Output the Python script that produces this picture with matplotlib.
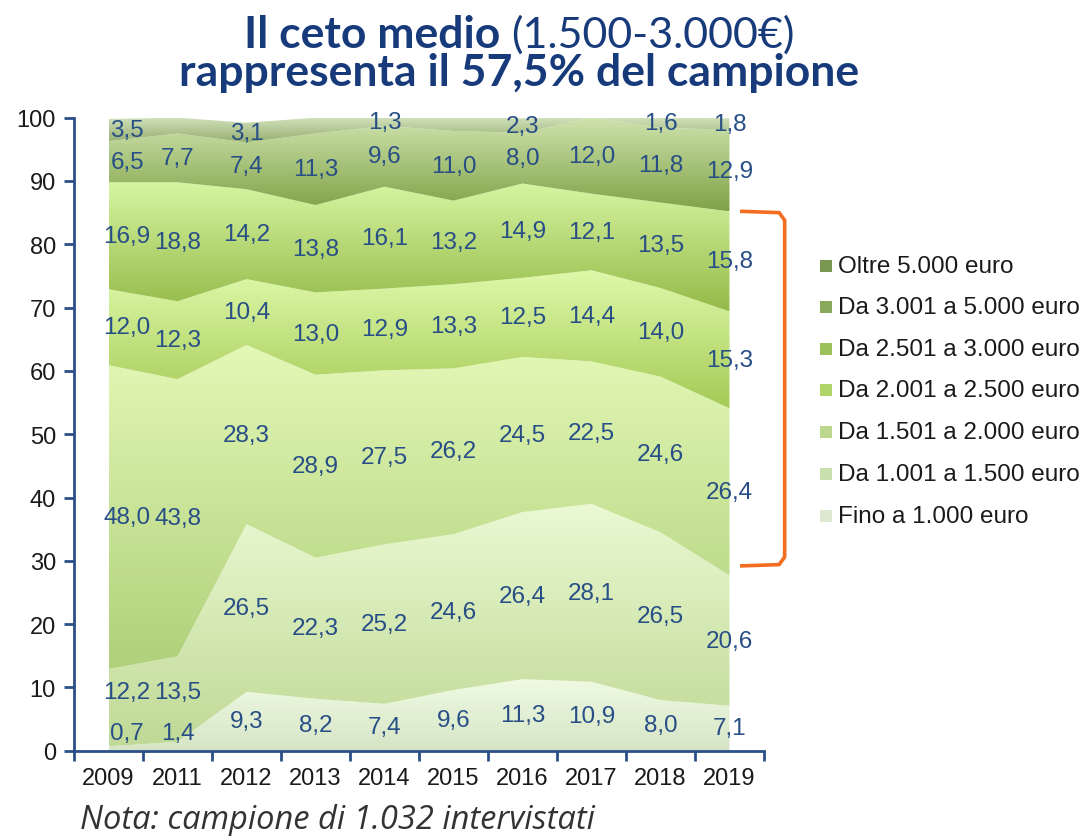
import numpy as np
import matplotlib
matplotlib.use("Agg")
import matplotlib.pyplot as plt
from matplotlib.colors import LinearSegmentedColormap
from matplotlib.patches import Polygon, Rectangle
from matplotlib.lines import Line2D

# data (percent of sample per income band)
years = ["2009", "2011", "2012", "2013", "2014", "2015", "2016", "2017", "2018", "2019"]
fino_1000 = [0.7, 1.4, 9.3, 8.2, 7.4, 9.6, 11.3, 10.9, 8.0, 7.1]
da_1001_1500 = [12.2, 13.5, 26.5, 22.3, 25.2, 24.6, 26.4, 28.1, 26.5, 20.6]
da_1501_2000 = [48.0, 43.8, 28.3, 28.9, 27.5, 26.2, 24.5, 22.5, 24.6, 26.4]
da_2001_2500 = [12.0, 12.3, 10.4, 13.0, 12.9, 13.3, 12.5, 14.4, 14.0, 15.3]
da_2501_3000 = [16.9, 18.8, 14.2, 13.8, 16.1, 13.2, 14.9, 12.1, 13.5, 15.8]
da_3001_5000 = [6.5, 7.7, 7.4, 11.3, 9.6, 11.0, 8.0, 12.0, 11.8, 12.9]
oltre_5000 = [3.5, 2.5, 3.1, 2.5, 1.3, 2.1, 2.3, 0.0, 1.6, 1.8]
oltre_shown = [True, False, True, False, True, False, True, False, True, True]

names = ["Fino a 1.000 euro", "Da 1.001 a 1.500 euro", "Da 1.501 a 2.000 euro",
         "Da 2.001 a 2.500 euro", "Da 2.501 a 3.000 euro", "Da 3.001 a 5.000 euro",
         "Oltre 5.000 euro"]
series = [fino_1000, da_1001_1500, da_1501_2000, da_2001_2500, da_2501_3000,
          da_3001_5000, oltre_5000]

# (bottom colour, top colour) of each band's gradient
grads = [("#d6e4c6", "#eefbe2"),
         ("#c0d996", "#eaf9d2"),
         ("#b0d07a", "#e3f8b6"),
         ("#a5ca55", "#dff9aa"),
         ("#94ba48", "#d8f5a2"),
         ("#7fa246", "#cfe3ae"),
         ("#97b070", "#d2e1bc")]
legend_cols = ["#dce8d0", "#cadfae", "#bcd88e", "#afd467", "#9cc35a", "#88a85a", "#789852"]

navy = "#284e86"
axis_col = "#2a5087"

fig = plt.figure(figsize=(10.92, 8.37), dpi=100)
ax = fig.add_axes([0.0678, 0.1019, 0.6318, 0.7563])

x = np.arange(len(years))
bottom = np.zeros(len(years))
label_pos = []
for i, vals in enumerate(series):
    vals = np.array(vals)
    top = bottom + vals
    verts = np.vstack([np.c_[x, top], np.c_[x[::-1], bottom[::-1]]])
    patch = Polygon(verts, closed=True, facecolor="none", edgecolor="none")
    ax.add_patch(patch)
    cmap = LinearSegmentedColormap.from_list("b%d" % i, list(grads[i]))
    grad = np.linspace(0, 1, 256).reshape(-1, 1)
    im = ax.imshow(grad, extent=(0, len(years) - 1, bottom.min(), top.max()),
                   origin="lower", cmap=cmap, aspect="auto",
                   interpolation="bilinear", zorder=1)
    im.set_clip_path(patch)
    label_pos.append((bottom + vals / 2, vals))
    bottom = top

# data labels; the two lowest ones get pushed up so they don't collide
for j in range(len(years)):
    prev = -10
    for i in range(len(series)):
        mids, vals = label_pos[i]
        y = mids[j]
        if i <= 1:
            y = max(y, prev + 6.5, 2.8)
        prev = y
        if i == len(series) - 1 and not oltre_shown[j]:
            continue
        xl = j + (0.27 if j == 0 else 0)
        ax.text(xl, y, ("%.1f" % vals[j]).replace(".", ","), ha="center", va="center",
                fontsize=17.5, color=navy, family="Liberation Sans", zorder=3)

ax.set_xlim(-0.5, len(years) - 0.5)
ax.set_ylim(0, 100)
ax.set_yticks(np.arange(0, 101, 10))
ax.set_xticks(x)
ax.set_xticks(np.arange(-0.5, len(years), 1), minor=True)
ax.set_xticklabels(years, family="Liberation Sans", fontsize=17, color="#1a1a1a")
for lab in ax.get_yticklabels():
    lab.set_family("Liberation Sans")
    lab.set_fontsize(17)
    lab.set_color("#1a1a1a")
ax.tick_params(axis="x", which="major", length=0, pad=12)
ax.tick_params(axis="x", which="minor", length=7, width=2, color=axis_col, direction="out")
ax.tick_params(axis="y", length=7, width=2, color=axis_col, direction="out", pad=6)
for s in ["top", "right"]:
    ax.spines[s].set_visible(False)
for s in ["left", "bottom"]:
    ax.spines[s].set_color(axis_col)
    ax.spines[s].set_linewidth(2)

# orange bracket around the middle class bands (1.501-3.000)
hi = np.cumsum(series, axis=0)[4][-1]
lo = np.cumsum(series, axis=0)[1][-1] + 1.7
bx = [9.18, 9.72, 9.80, 9.80, 9.72, 9.18]
by = [hi, hi - 0.2, hi - 1.4, lo + 1.2, lo, lo - 0.2]
ax.add_line(Line2D(bx, by, color="#f26d21", lw=2.6, clip_on=False,
                   solid_joinstyle="round", zorder=4))

# legend drawn by hand
leg_y = [267, 308, 350, 391, 433, 475, 517]
for k, i in enumerate(range(len(series) - 1, -1, -1)):
    yc = 1 - leg_y[k] / 837
    fig.add_artist(Rectangle((820 / 1092, yc - 6 / 837), 12 / 1092, 12 / 837,
                             transform=fig.transFigure, facecolor=legend_cols[i],
                             edgecolor="none"))
    fig.text(838 / 1092, yc, names[i], ha="left", va="center", fontsize=17.5,
             family="Liberation Sans", color="#1a1a1a")

# title with mixed weight on the first line
title_col = "#173b7a"
t1 = fig.text(0, 1 - 48 / 837, "Il ceto medio ", fontsize=32, weight="bold",
              family="Lato", color=title_col, va="baseline")
t2 = fig.text(0, 1 - 48 / 837, "(1.500-3.000€)", fontsize=31, weight="normal",
              family="Lato", color=title_col, va="baseline")
fig.text(519 / 1092, 1 - 86 / 837, "rappresenta il 57,5% del campione", fontsize=32,
         weight="bold", family="Lato", color=title_col, va="baseline", ha="center")
r = fig.canvas.get_renderer()
w1 = t1.get_window_extent(r).width
w2 = t2.get_window_extent(r).width
x0 = 519 - (w1 + w2) / 2
t1.set_x(x0 / 1092)
t2.set_x((x0 + w1) / 1092)

fig.text(80 / 1092, 1 - 829 / 837, "Nota: campione di 1.032 intervistati", fontsize=23.5,
         style="italic", family="Open Sans", color="#333333", va="baseline")

fig.savefig("out.png", dpi=100)
